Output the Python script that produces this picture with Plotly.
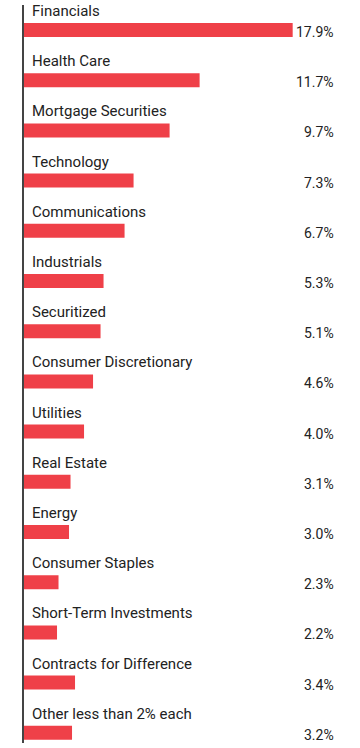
import plotly.graph_objects as go

categories = ["Financials", "Health Care", "Mortgage Securities", "Technology",
              "Communications", "Industrials", "Securitized", "Consumer Discretionary",
              "Utilities", "Real Estate", "Energy", "Consumer Staples",
              "Short-Term Investments", "Contracts for Difference", "Other less than 2% each"]
values = [17.9, 11.7, 9.7, 7.3, 6.7, 5.3, 5.1, 4.6, 4.0, 3.1, 3.0, 2.3, 2.2, 3.4, 3.2]
value_labels = [f"{v:.1f}%" for v in values]

FONT = "Roboto, sans-serif"
idx = list(range(len(categories)))

fig = go.Figure(go.Bar(
    x=values, y=idx, orientation="h",
    marker=dict(color="#EF4048", line=dict(width=0)),
    width=0.279, hoverinfo="skip",
))

ann = []
for i, (c, lab) in enumerate(zip(categories, value_labels)):
    ann.append(dict(x=0, y=i, xref="x", yref="y", text=c, showarrow=False,
                    xanchor="left", yanchor="middle", xshift=6, yshift=19,
                    font=dict(family=FONT, size=15, color="#222")))
    ann.append(dict(x=1, y=i, xref="paper", yref="y", text=lab, showarrow=False,
                    xanchor="right", yanchor="middle", yshift=-2,
                    font=dict(family=FONT, size=14, color="#222")))

unit = 50.2
H = 748 - 10
top = -25 / unit
bottom = top + H / unit

fig.update_layout(
    width=360, height=748,
    margin=dict(l=24, r=24, t=5, b=5),
    paper_bgcolor="white", plot_bgcolor="white",
    showlegend=False,
    annotations=ann,
    xaxis=dict(range=[0, 312 / 15.01], visible=False, fixedrange=True),
    yaxis=dict(range=[bottom, top], showticklabels=False, showgrid=False,
               zeroline=False, showline=True, linecolor="#444", linewidth=1.5,
               ticks="", fixedrange=True),
)
fig.write_html("out.html", config={"displayModeBar": False})
